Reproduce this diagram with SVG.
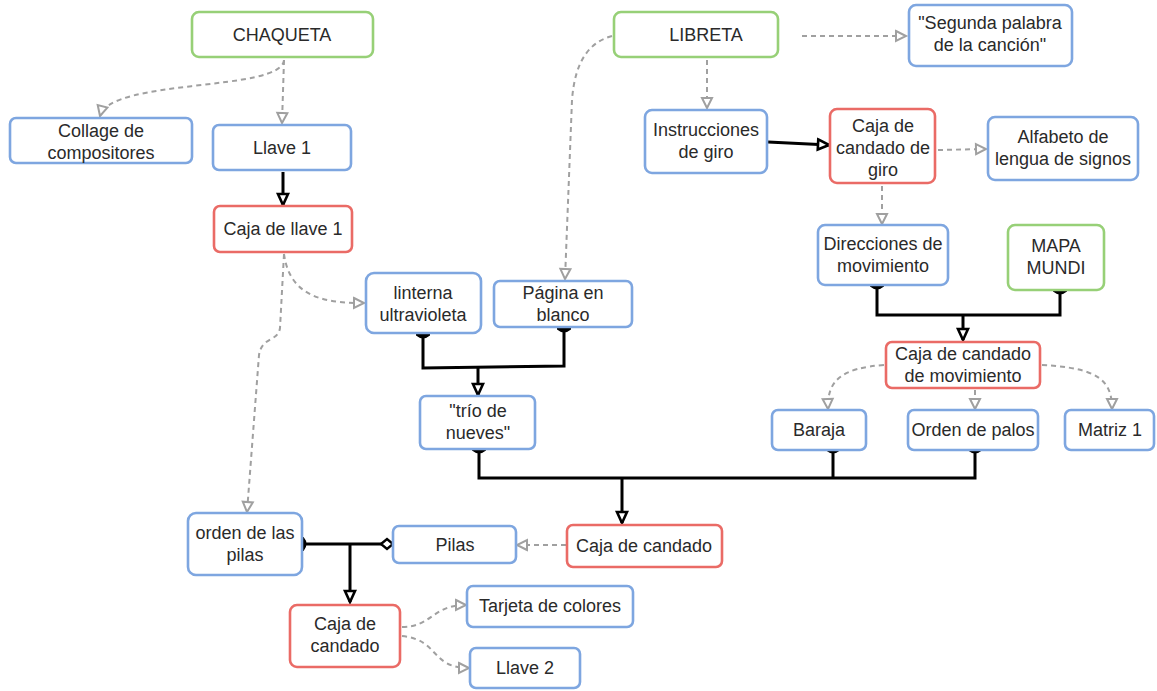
<svg xmlns="http://www.w3.org/2000/svg" width="1157" height="691" viewBox="0 0 1157 691">
<defs>
<style>
.n rect{fill:#fff;stroke-width:2.6}
.b rect{stroke:#7ea6e0}
.g rect{stroke:#97d077}
.r rect{stroke:#ea6b66}
text{font-family:"Liberation Sans",Arial,sans-serif;font-size:18px;fill:#2a2a2a;text-anchor:middle}
.d{fill:none;stroke:#a0a0a0;stroke-width:2;stroke-dasharray:5 4}
.k{fill:none;stroke:#000;stroke-width:3}
</style>
<marker id="ga" markerUnits="userSpaceOnUse" markerWidth="16" markerHeight="16" refX="12" refY="7" orient="auto" viewBox="0 0 16 14">
<path d="M2,2 L12,7 L2,12 Z" fill="#fff" stroke="#a0a0a0" stroke-width="2"/>
</marker>
<marker id="ka" markerUnits="userSpaceOnUse" markerWidth="16" markerHeight="16" refX="13" refY="7" orient="auto" viewBox="0 0 16 14">
<path d="M2,2 L13,7 L2,12 Z" fill="#fff" stroke="#000" stroke-width="2.6"/>
</marker>
<marker id="kt" markerUnits="userSpaceOnUse" markerWidth="12" markerHeight="14" refX="2" refY="7" orient="auto" viewBox="0 0 12 14">
<path d="M1,1 Q6,7 1,13 Z" fill="#000" stroke="#000" stroke-width="2"/>
</marker>
<marker id="kte" markerUnits="userSpaceOnUse" markerWidth="12" markerHeight="14" refX="10" refY="7" orient="auto" viewBox="0 0 12 14">
<path d="M11,1 Q6,7 11,13 Z" fill="#000" stroke="#000" stroke-width="2"/>
</marker>
<marker id="kd" markerUnits="userSpaceOnUse" markerWidth="14" markerHeight="14" refX="13" refY="7" orient="auto" viewBox="0 0 14 14">
<path d="M1,7 L7,2 L13,7 L7,12 Z" fill="#fff" stroke="#000" stroke-width="2.4"/>
</marker>
</defs>
<rect width="1157" height="691" fill="#fff"/>
<g id="connectors">
<path class="d" d="M284,60 C282,92 110,78 100,116" marker-end="url(#ga)"/>
<path class="d" d="M284,60 L282,123" marker-end="url(#ga)"/>
<path class="d" d="M284,254 C290,300 330,303 364,303" marker-end="url(#ga)"/>
<path class="d" d="M284,254 L280,328 C278,342 262,336 259,355 L247,512" marker-end="url(#ga)"/>
<path class="d" d="M612,36 C590,42 575,60 572,100 L565,279" marker-end="url(#ga)"/>
<path class="d" d="M802,36 L906,36" marker-end="url(#ga)"/>
<path class="d" d="M707,60 L707,108" marker-end="url(#ga)"/>
<path class="d" d="M938,150 L986,149" marker-end="url(#ga)"/>
<path class="d" d="M882,186 L882,224" marker-end="url(#ga)"/>
<path class="d" d="M884,365 C842,368 827,380 828,409" marker-end="url(#ga)"/>
<path class="d" d="M975,390 L975,409" marker-end="url(#ga)"/>
<path class="d" d="M1042,365 C1098,368 1112,380 1112,409" marker-end="url(#ga)"/>
<path class="d" d="M566,545 L517,545" marker-end="url(#ga)"/>
<path class="d" d="M402,627 C432,627 432,605 466,605" marker-end="url(#ga)"/>
<path class="d" d="M402,636 C440,640 430,668 469,668" marker-end="url(#ga)"/>
<path class="k" d="M283,172 L283,205" marker-end="url(#ka)"/>
<path class="k" d="M768,142 L829,145" marker-end="url(#ka)"/>
<path class="k" d="M877,287 L877,315 L1060,315 L1060,292" marker-start="url(#kt)" marker-end="url(#kte)"/>
<path class="k" d="M963,315 L963,340" marker-end="url(#ka)"/>
<path class="k" d="M423,336 L423,368 L564,366 L564,330" marker-start="url(#kt)" marker-end="url(#kte)"/>
<path class="k" d="M478,367 L478,395" marker-end="url(#ka)"/>
<path class="k" d="M479,451 L479,478 L975,478 L975,451" marker-start="url(#kt)" marker-end="url(#kte)"/>
<path class="k" d="M833,478 L833,451" marker-end="url(#kte)"/>
<path class="k" d="M622,478 L622,523" marker-end="url(#ka)"/>
<path class="k" d="M304,544 L393,544" marker-start="url(#kt)" marker-end="url(#kd)"/>
<path class="k" d="M350,544 L350,602" marker-end="url(#ka)"/>
</g>
<g id="chaqueta" class="n g"><rect x="192" y="12" width="181" height="45" rx="7"/><text x="282" y="41">CHAQUETA</text></g>
<g id="collage" class="n b"><rect x="10" y="118" width="182" height="45" rx="6"/><text x="101" y="137">Collage de</text><text x="101" y="159">compositores</text></g>
<g id="llave1" class="n b"><rect x="213" y="125" width="138" height="45" rx="6"/><text x="282" y="154">Llave 1</text></g>
<g id="cajallave1" class="n r"><rect x="214" y="206" width="138" height="46" rx="6"/><text x="283" y="235">Caja de llave 1</text></g>
<g id="linterna" class="n b"><rect x="366" y="273" width="115" height="60" rx="8"/><text x="423" y="299">linterna</text><text x="423" y="321">ultravioleta</text></g>
<g id="pagina" class="n b"><rect x="494" y="281" width="138" height="46" rx="6"/><text x="563" y="299">Página en</text><text x="563" y="321">blanco</text></g>
<g id="trio" class="n b"><rect x="420" y="396" width="115" height="53" rx="6"/><text x="478" y="417">"trío de</text><text x="478" y="439">nueves"</text></g>
<g id="libreta" class="n g"><rect x="614" y="12" width="164" height="45" rx="7"/><text x="706" y="41">LIBRETA</text></g>
<g id="segunda" class="n b"><rect x="909" y="5" width="163" height="61" rx="7"/><text x="990" y="29">"Segunda palabra</text><text x="990" y="51">de la canción"</text></g>
<g id="instrucciones" class="n b"><rect x="645" y="110" width="122" height="63" rx="7"/><text x="706" y="136">Instrucciones</text><text x="706" y="158">de giro</text></g>
<g id="cajagiro" class="n r"><rect x="830" y="109" width="105" height="74" rx="7"/><text x="883" y="132">Caja de</text><text x="883" y="154">candado de</text><text x="883" y="176">giro</text></g>
<g id="alfabeto" class="n b"><rect x="988" y="117" width="150" height="63" rx="7"/><text x="1063" y="143">Alfabeto de</text><text x="1063" y="165">lengua de signos</text></g>
<g id="direcciones" class="n b"><rect x="818" y="225" width="130" height="60" rx="7"/><text x="883" y="250">Direcciones de</text><text x="883" y="272">movimiento</text></g>
<g id="mapamundi" class="n g"><rect x="1008" y="225" width="96" height="65" rx="7"/><text x="1056" y="252">MAPA</text><text x="1056" y="274">MUNDI</text></g>
<g id="cajamov" class="n r"><rect x="886" y="342" width="154" height="46" rx="6"/><text x="963" y="360">Caja de candado</text><text x="963" y="382">de movimiento</text></g>
<g id="baraja" class="n b"><rect x="772" y="410" width="94" height="40" rx="6"/><text x="819" y="436">Baraja</text></g>
<g id="ordenpalos" class="n b"><rect x="908" y="410" width="130" height="40" rx="6"/><text x="973" y="436">Orden de palos</text></g>
<g id="matriz1" class="n b"><rect x="1065" y="410" width="89" height="40" rx="6"/><text x="1110" y="436">Matriz 1</text></g>
<g id="cajacandado" class="n r"><rect x="567" y="525" width="155" height="42" rx="6"/><text x="644" y="552">Caja de candado</text></g>
<g id="pilas" class="n b"><rect x="393" y="526" width="123" height="37" rx="6"/><text x="455" y="551">Pilas</text></g>
<g id="ordenpilas" class="n b"><rect x="188" y="513" width="114" height="62" rx="8"/><text x="245" y="539">orden de las</text><text x="245" y="561">pilas</text></g>
<g id="cajacandado2" class="n r"><rect x="290" y="605" width="110" height="62" rx="7"/><text x="345" y="630">Caja de</text><text x="345" y="652">candado</text></g>
<g id="tarjeta" class="n b"><rect x="467" y="586" width="166" height="41" rx="6"/><text x="550" y="612">Tarjeta de colores</text></g>
<g id="llave2" class="n b"><rect x="470" y="648" width="110" height="40" rx="6"/><text x="525" y="674">Llave 2</text></g>
</svg>
